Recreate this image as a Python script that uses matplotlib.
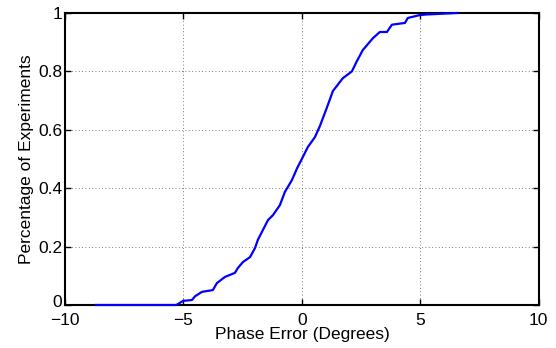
import matplotlib
matplotlib.use("Agg")
import matplotlib.pyplot as plt
import matplotlib.transforms as mtransforms

phase_error = [-8.7, -5.3, -5.02, -4.64, -4.51, -4.22, -3.76, -3.59, -3.25, -2.83, -2.7,
               -2.49, -2.19, -1.98, -1.86, -1.69, -1.43, -1.22, -0.93, -0.72, -0.42,
               -0.2, 0.04, 0.25, 0.55, 0.76, 1.05, 1.31, 1.73, 2.11, 2.32, 2.57, 3.0,
               3.29, 3.59, 3.8, 4.35, 4.47, 4.98, 5.27, 6.55]
fraction = [0.0, 0.0, 0.014, 0.017, 0.03, 0.045, 0.051, 0.075, 0.096, 0.11, 0.127,
            0.147, 0.164, 0.195, 0.223, 0.25, 0.291, 0.308, 0.342, 0.387, 0.428,
            0.469, 0.507, 0.541, 0.575, 0.613, 0.675, 0.733, 0.777, 0.80, 0.835,
            0.873, 0.914, 0.935, 0.935, 0.96, 0.966, 0.983, 0.993, 0.995, 1.0]

x_ticks = [-10, -5, 0, 5, 10]
y_ticks = [0, 0.2, 0.4, 0.6, 0.8, 1]
y_tick_labels = ["0", "0.2", "0.4", "0.6", "0.8", "1"]

plt.rcParams['font.family'] = ['Liberation Sans', 'DejaVu Sans']
plt.rcParams['font.size'] = 12.5

fig = plt.figure(figsize=(5.56, 3.48), dpi=100)
ax = fig.add_axes([0.117, 0.1236, 0.852, 0.839])
ax.plot(phase_error, fraction, color='#0000ff', lw=1.6, zorder=5, clip_on=False)
ax.set_xlim(-10, 10)
ax.set_ylim(0, 1)
ax.set_xticks(x_ticks)
ax.set_yticks(y_ticks)
ax.set_yticklabels(y_tick_labels)
ax.grid(True, color='#555555', linestyle=(0, (1, 3)), linewidth=0.6)
ax.tick_params(direction='in', top=True, right=True, length=4, width=1.0)
ax.tick_params(axis='x', pad=6)
ax.tick_params(axis='y', pad=2)
for s in ax.spines.values():
    s.set_linewidth(1.5)
ax.set_xlabel("Phase Error (Degrees)", labelpad=-1)
ax.set_ylabel("Percentage of Experiments", labelpad=3)

# nudge the y "0" label up slightly so it does not collide with "−10"
lbl0 = ax.get_yticklabels()[0]
lbl0.set_transform(lbl0.get_transform() +
                   mtransforms.ScaledTranslation(0, 3 / 72, fig.dpi_scale_trans))
fig.savefig("out.png", dpi=100)
